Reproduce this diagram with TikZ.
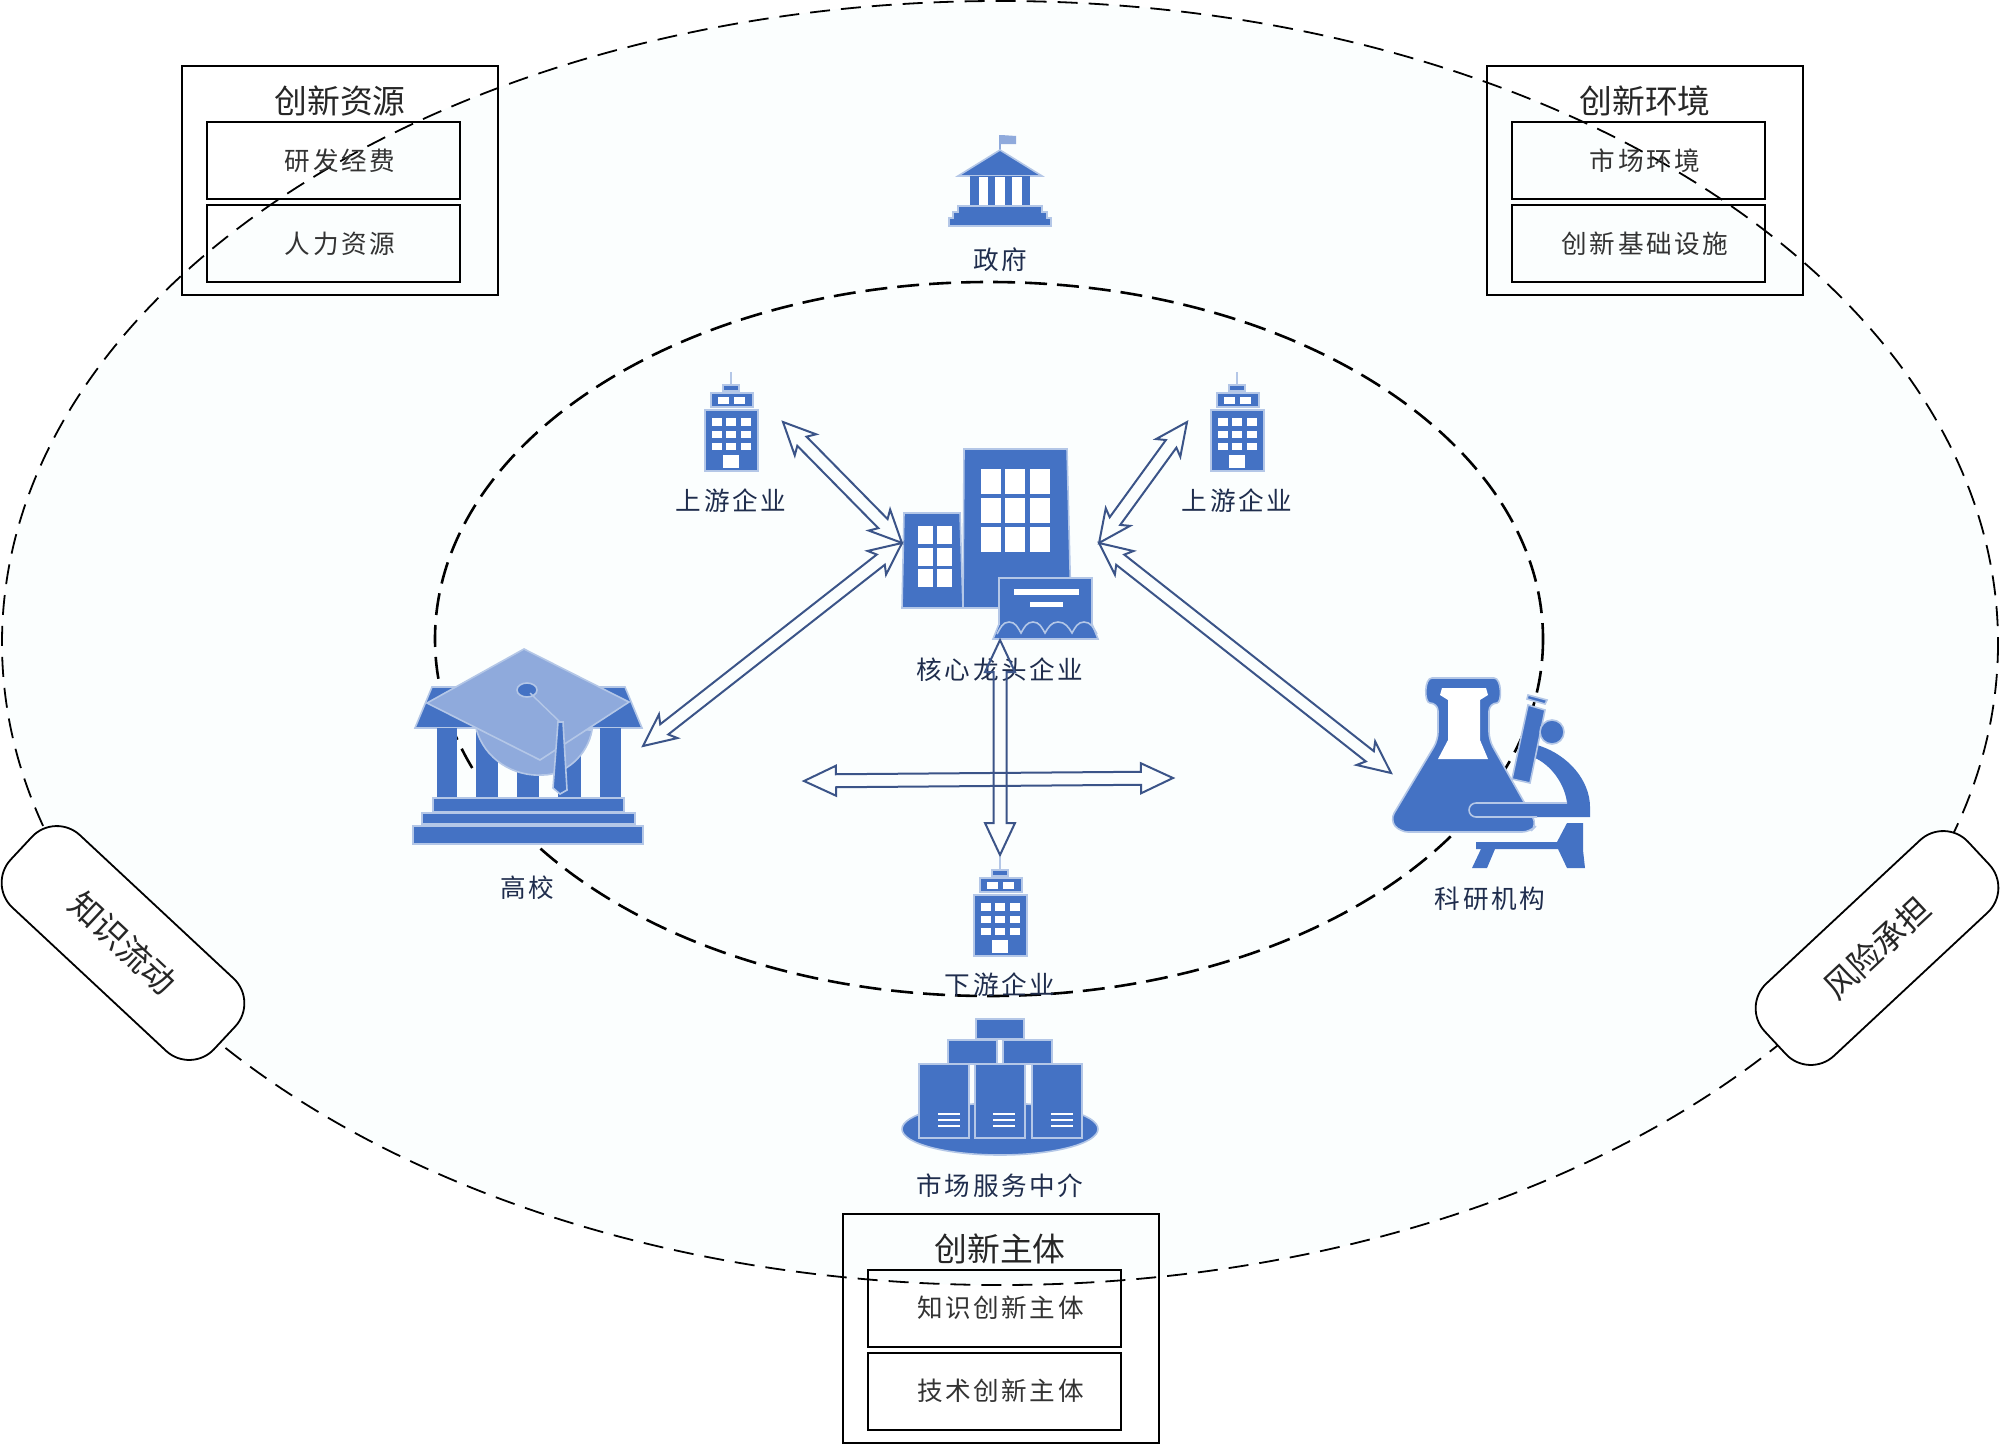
\documentclass[tikz,border=0pt]{standalone}
\usepackage{fontspec}
\usepackage{xcolor}
\setmainfont{Noto Sans CJK SC}
\newfontfamily\cjkspaced[LetterSpace=10]{Noto Sans CJK SC}
\usetikzlibrary{calc}
\definecolor{iconblue}{HTML}{4472C4}
\definecolor{iconedge}{HTML}{B4C7E7}
\definecolor{capblue}{HTML}{8FAADC}
\definecolor{arrowblue}{HTML}{3B5488}
\definecolor{labelnavy}{HTML}{1F2D4D}
\definecolor{paperblue}{HTML}{FBFEFE}
\tikzset{
  icon/.style={fill=iconblue, draw=iconedge, line width=0.8pt},
  capicon/.style={fill=capblue, draw=iconedge, line width=0.8pt},
  hole/.style={fill=white, draw=none},
  iconlabel/.style={text=labelnavy, inner sep=0pt, font=\cjkspaced\fontsize{12.8}{15}\selectfont},
  outerbox/.style={draw=black, line width=1pt, minimum width=158pt, minimum height=114.5pt},
  innerbox/.style={draw=black, line width=1pt, minimum width=126.5pt, minimum height=38.5pt,
    text=black!80, inner sep=0pt, font=\cjkspaced\fontsize{12.8}{15}\selectfont},
  boxtitle/.style={text=black!85, inner sep=0pt, font=\fontsize{16.4}{19}\selectfont},
  tagbox/.style={draw=black, line width=0.9pt, fill=white, rounded corners=17pt,
    minimum width=139pt, minimum height=49.5pt, text=black!85, font=\fontsize{16.4}{19}\selectfont},
  arrowline/.style={draw=arrowblue, line width=1pt, line join=miter},
  firmicon/.pic={
    \draw[iconedge, line width=0.7pt] (0,0) -- (0,13);
    \draw[icon] (-8,13) rectangle (8,19);
    \draw[icon] (-20,21) rectangle (22,35);
    \draw[icon] (-26,38) rectangle (27,99);
    \foreach \wx in {-19.3,-5,10} \foreach \wy in {46.3,58.7,70.7}
      \fill[hole] (\wx,\wy) rectangle ++(10,7.7);
    \fill[hole] (-13,24.7) rectangle ++(11,7.5);
    \fill[hole] (3,24.7) rectangle ++(10.7,7.5);
    \fill[hole] (-8,83) rectangle (8,96);
  }
}
% block arrow with two heads: [inset of the barbs]{from}{to}
\newcommand{\dblarrow}[3][5]{%
  \path let \p1=($(#3)-(#2)$) in \pgfextra{%
    \pgfmathsetmacro{\arrlen}{veclen(\x1,\y1)*2}%
    \pgfmathsetmacro{\arrang}{atan2(\y1,\x1)}%
    \global\let\arrlen\arrlen \global\let\arrang\arrang};
  \pgfmathsetmacro{\arrbar}{\arrlen-32}
  \pgfmathsetmacro{\arrnot}{\arrlen-32+#1}
  \draw[arrowline, shift={(#2)}, rotate=\arrang] (0,0) -- (32,15) -- ({32-#1},6.5)
    -- (\arrnot,6.5) -- (\arrbar,15) -- (\arrlen,0) -- (\arrbar,-15) -- (\arrnot,-6.5)
    -- ({32-#1},-6.5) -- (32,-15) -- cycle;
}
\begin{document}
\begin{tikzpicture}[x=0.5pt, y=-0.5pt]
  \useasboundingbox (0,0) rectangle (2000,1445);
  \fill[white] (0,0) rectangle (2000,1445);
  \draw[fill=paperblue, line width=0.9pt, dash pattern=on 10pt off 5.5pt] (1000,643) ellipse [x radius=998, y radius=642];
  \draw[line width=1.3pt, dash pattern=on 11pt off 5pt] (989,639) ellipse [x radius=554, y radius=357];

  % government
  \fill[capblue] (999,135) rectangle (1001,150);
  \fill[capblue] (1001,135) -- (1016,136) -- (1016,144) -- (1001,144) -- cycle;
  \draw[icon] (1000,150) -- (1042,176) -- (958,176) -- cycle;
  \draw[icon, draw=none] (970,176) rectangle (1030,207);
  \foreach \wx in {978.5,995,1012} \fill[hole] (\wx,177) rectangle ++(9.5,29);
  \draw[icon] (958,206) -- (1042,206) -- (1042,212) -- (1047,212) -- (1047,218) -- (1051,218) -- (1051,226)
    -- (949,226) -- (949,218) -- (953,218) -- (953,212) -- (958,212) -- cycle;
  \node[iconlabel] (gov) at (1000,260) {政府};

  % firms
  \pic at (731,372) {firmicon};
  \pic at (1237,372) {firmicon};
  \pic at (1000,857) {firmicon};
  \node[iconlabel] (upleft) at (731,501) {上游企业};
  \node[iconlabel] (upright) at (1237,501) {上游企业};
  \node[iconlabel] (down) at (1000,985) {下游企业};

  % core firm
  \draw[icon] (904,513) -- (960,513) -- (963,608) -- (902,608) -- cycle;
  \foreach \wx in {917.5,936.5} \foreach \wy in {526,547.5,568.5}
    \fill[hole] (\wx,\wy) rectangle ++(15.5,18);
  \draw[icon] (964,449) -- (1067,449) -- (1071,608) -- (963,608) -- cycle;
  \foreach \wx in {980.5,1005,1029.5} \foreach \wy in {468.5,498,527}
    \fill[hole] (\wx,\wy) rectangle ++(20,25);
  \draw[icon] (999,578) rectangle (1092,625);
  \draw[icon] (999,624) -- (1092,624) -- (1098,639) -- (993,639) -- cycle;
  \fill[iconblue] (1000,620) rectangle (1091,626);
  \fill[hole] (1014,589) rectangle (1079,594.5);
  \fill[hole] (1030,602) rectangle (1063,607);
  \draw[iconedge, line width=0.8pt] (997,634) to[out=60, in=180] (1009,622) to[out=0, in=120] (1021,633)
    to[out=60, in=180] (1033,622) to[out=0, in=120] (1045,633) to[out=60, in=180] (1058,622)
    to[out=0, in=120] (1072,633) to[out=60, in=180] (1084,622) to[out=0, in=120] (1097,634);
  \node[iconlabel] (core) at (1000,670) {核心龙头企业};

  % university
  \draw[icon] (432,687) -- (625,687) -- (642,728) -- (415,728) -- cycle;
  \foreach \cx/\cw in {437/20,476/22,517/22,558/23,600/21}
    \draw[icon, draw=none] (\cx,728) rectangle ++(\cw,70);
  \draw[icon] (433,798) rectangle (624,812);
  \draw[icon] (422,813) rectangle (635,824);
  \draw[icon] (413,826) rectangle (643,844);
  \draw[capicon] (476,728) .. controls (484,760) and (515,777) .. (543,775) .. controls (565,775) and (588,755) .. (592,730) -- cycle;
  \draw[capicon] (524,649) -- (629,702) -- (540,760) -- (427,703) -- cycle;
  \draw[icon] (527,690) ellipse [x radius=10, y radius=7];
  \draw[iconedge, line width=0.7pt] (530,693) -- (560,722);
  \draw[icon] (558,722) -- (563,722) -- (567,790) -- (560,794) -- (553,788) -- cycle;
  \node[iconlabel] (univ) at (527,888) {高校};

  % research institute
  \draw[icon, line join=round, rounded corners=4pt] (1448,678) -- (1486,678) .. controls (1502,678) and (1502,703) .. (1489,703)
    -- (1489,740) -- (1537,825) -- (1530,832) -- (1400,832) -- (1390,820) -- (1438,740) -- (1438,703)
    .. controls (1424,703) and (1424,678) .. (1440,678) -- cycle;
  \fill[hole] (1442,688) -- (1486,688) -- (1488,695) -- (1480,700) -- (1480,740) -- (1488,759) -- (1438,759) -- (1448,740) -- (1448,700) -- (1440,695) -- cycle;
  \draw[icon, draw=none] (1537,745) .. controls (1570,755) and (1590,782) .. (1590,807) -- (1590,817) -- (1476,817)
    arc [start angle=90, end angle=270, radius=7] -- (1567,803) .. controls (1565,785) and (1552,765) .. (1533,757) -- cycle;
  \draw[iconedge, line width=0.8pt] (1537,817) -- (1476,817) arc [start angle=90, end angle=270, radius=7] -- (1567,803);
  \draw[icon] (1528,705) -- (1545,710) -- (1530,783) -- (1512,779) -- cycle;
  \draw[icon] (1528,695) -- (1547,700) -- (1545,704) -- (1527,699) -- cycle;
  \draw[icon] (1552,732) circle [radius=12];
  \draw[icon, draw=none] (1476,842) -- (1557,842) -- (1567,823) -- (1583,823) -- (1583,850) -- (1585,868) -- (1567,868)
    -- (1558,849) -- (1495,849) -- (1487,868) -- (1472,868) -- (1481,849) -- (1476,849) -- cycle;
  \node[iconlabel] (inst) at (1490,899) {科研机构};

  % market service agency
  \draw[icon] (1000,1129) ellipse [x radius=98, y radius=26];
  \draw[icon] (976,1019) rectangle (1024,1039);
  \draw[icon] (948,1040) rectangle (997,1064);
  \draw[icon] (1003,1040) rectangle (1052,1064);
  \foreach \sx/\lx in {919/938,975/993,1032/1051} {
    \draw[icon] (\sx,1064) rectangle ++(50,74);
    \foreach \ly in {1113,1119,1125} \fill[hole] (\lx,\ly) rectangle ++(22,1.6);
  }
  \node[iconlabel] (agency) at (1000,1186) {市场服务中介};

  % resource boxes
  \node[outerbox] (resbox) at (339.5,180.5) {};
  \node[boxtitle] (restitle) at (340,101) {创新资源};
  \node[innerbox] (res1) at (333.5,160.5) {\hspace*{6.5pt}研发经费};
  \node[innerbox] (res2) at (333.5,243.5) {\hspace*{6.5pt}人力资源};

  \node[outerbox] (envbox) at (1644.5,180.5) {};
  \node[boxtitle] (envtitle) at (1645,101) {创新环境};
  \node[innerbox] (env1) at (1638.5,160.5) {\hspace*{6.5pt}市场环境};
  \node[innerbox] (env2) at (1638.5,243.5) {\hspace*{6.5pt}创新基础设施};

  \node[outerbox] (subbox) at (1000.5,1328) {};
  \node[boxtitle] (subtitle) at (1000,1249) {创新主体};
  \node[innerbox] (sub1) at (994,1308) {\hspace*{6.5pt}知识创新主体};
  \node[innerbox] (sub2) at (994,1391) {\hspace*{6.5pt}技术创新主体};

  % side tags
  \node[tagbox, rotate=-43] (flow) at (123,943) {知识流动};
  \node[tagbox, rotate=43] (risk) at (1877,948) {风险承担};

  % arrows
  \coordinate (corewest) at (902,543);
  \coordinate (coreeast) at (1099,543);
  \coordinate (coresouth) at (1000,640);
  \coordinate (upleftend) at (783,422);
  \coordinate (uprightend) at (1187,422);
  \coordinate (univend) at (643,746);
  \coordinate (instend) at (1391,773);
  \coordinate (downend) at (1000,855);
  \coordinate (spanwest) at (804,781);
  \coordinate (spaneast) at (1173,778);
  \dblarrow{upleftend}{corewest}
  \dblarrow{uprightend}{coreeast}
  \dblarrow{univend}{corewest}
  \dblarrow{instend}{coreeast}
  \dblarrow[0]{coresouth}{downend}
  \dblarrow[0]{spanwest}{spaneast}
\end{tikzpicture}
\end{document}
